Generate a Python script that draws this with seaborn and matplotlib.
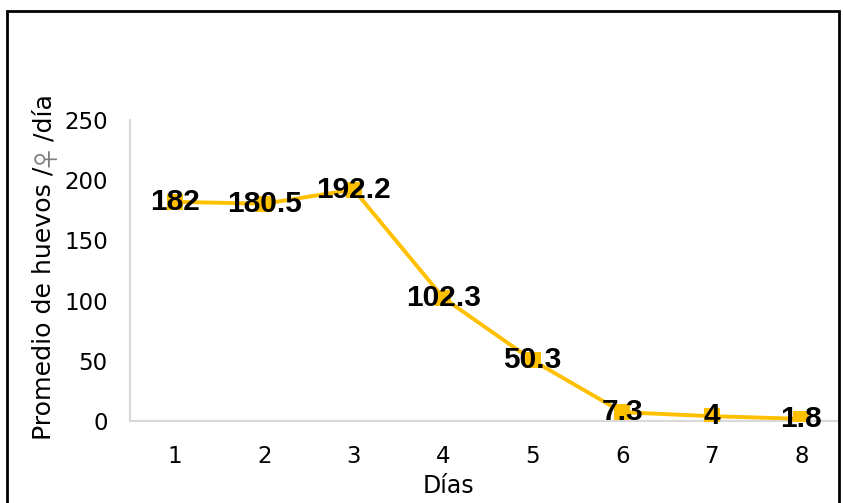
import matplotlib
matplotlib.use("Agg")
import matplotlib.pyplot as plt
import seaborn as sns
import pandas as pd
from matplotlib.patches import Rectangle

dias = [1, 2, 3, 4, 5, 6, 7, 8]
huevos = [182, 180.5, 192.2, 102.3, 50.3, 7.3, 4, 1.8]
etiquetas = ["182", "180.5", "192.2", "102.3", "50.3", "7.3", "4", "1.8"]
yticks = [0, 50, 100, 150, 200, 250]

sns.set_theme(style="white")
plt.rcParams["font.family"] = ["DejaVu Sans"]

df = pd.DataFrame({"Días": dias, "Huevos": huevos})

W, H = 843, 503
fig = plt.figure(figsize=(W / 100, H / 100), dpi=100)
ax = fig.add_axes([130 / W, 1 - 421 / H, (838 - 130) / W, (421 - 120) / H])

sns.lineplot(data=df, x="Días", y="Huevos", ax=ax, color="#FFC000",
             linewidth=2.8, marker="s", markersize=12, markeredgewidth=0,
             zorder=3)

# value labels centred on each point
for x, y, t in zip(dias, huevos, etiquetas):
    ax.text(x, y, t, ha="center", va="center", fontsize=21.5,
            fontweight="bold", color="black", family="Liberation Sans",
            zorder=4)

ax.set_xlim(0.5, 0.5 + (838 - 130) / 89.5)
ax.set_ylim(0, 250)
ax.set_xticks(dias)
ax.set_xticklabels([str(d) for d in dias])
ax.set_yticks(yticks)
ax.tick_params(axis="both", length=0, labelsize=16.5, colors="black")
ax.tick_params(axis="x", pad=17)
ax.tick_params(axis="y", pad=16)

for side in ["top", "right"]:
    ax.spines[side].set_visible(False)
for side in ["left", "bottom"]:
    ax.spines[side].set_color("#D9D9D9")
    ax.spines[side].set_linewidth(1.5)

ax.set_xlabel("")
ax.set_ylabel("")

# vertical axis title assembled from pieces so the female sign can use its own font
piezas = [("Promedio de huevos /", "DejaVu Sans", "black"),
          ("♀", "Noto Sans CJK SC", "#7F7F7F"),
          ("/día", "DejaVu Sans", "black")]
renderer = fig.canvas.get_renderer()
y_px = H - 440
for texto, fam, col in piezas:
    t = fig.text(44 / W, y_px / H, texto, rotation=90, ha="center", va="bottom",
                 fontsize=18.2, family=fam, color=col)
    y_px += t.get_window_extent(renderer).height

fig.text(448 / W, 1 - 486 / H, "Días", ha="center", va="center",
         fontsize=17, color="black")

fig.patches.append(Rectangle((7 / W, -0.05), (839 - 7) / W, 1 - 11 / H + 0.05,
                             transform=fig.transFigure, fill=False,
                             edgecolor="black", linewidth=2))

fig.savefig("out.png", dpi=100)
